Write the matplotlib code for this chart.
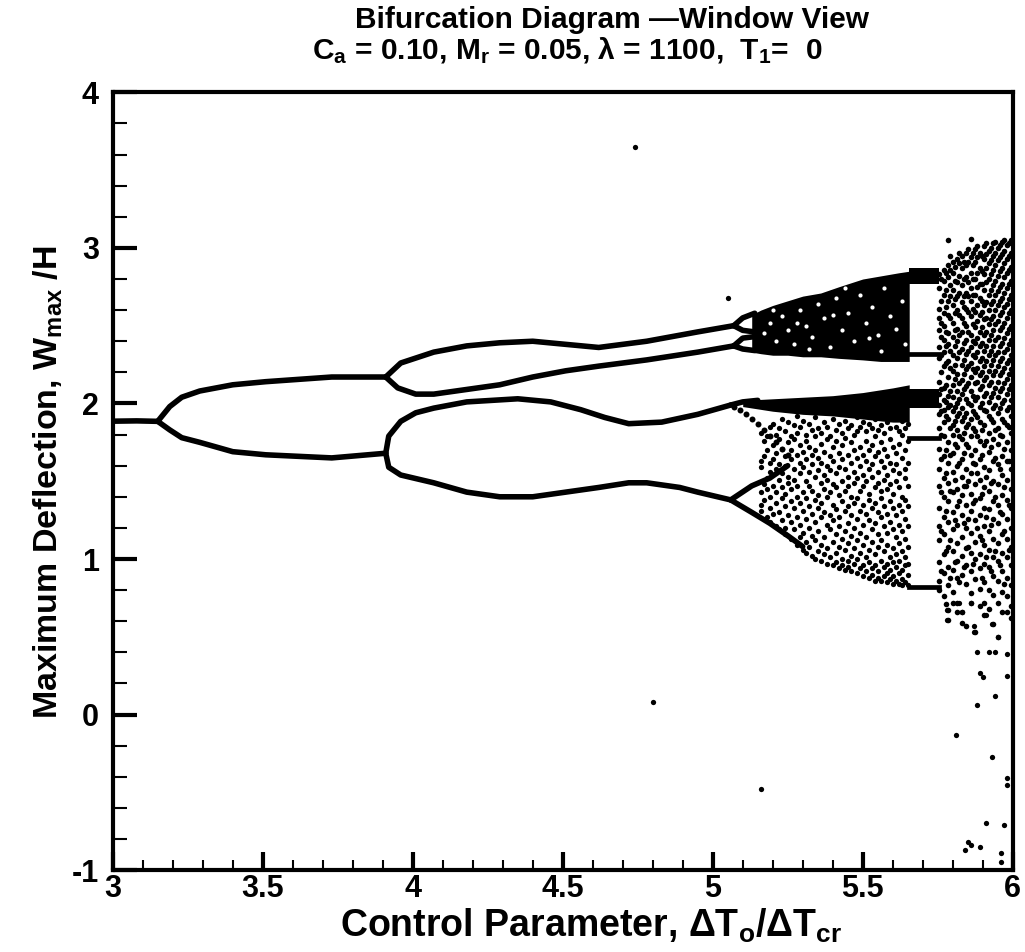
"""Bifurcation diagram (window view) redrawn with matplotlib."""

import matplotlib
matplotlib.use("Agg")
import matplotlib.pyplot as plt
from matplotlib.ticker import MultipleLocator

plt.rcParams["font.family"] = ["Liberation Sans", "DejaVu Sans"]
plt.rcParams["font.weight"] = "bold"
plt.rcParams["mathtext.fontset"] = "custom"
plt.rcParams["mathtext.rm"] = "Liberation Sans:bold"
plt.rcParams["mathtext.bf"] = "Liberation Sans:bold"
plt.rcParams["mathtext.it"] = "Liberation Sans:bold"
plt.rcParams["mathtext.default"] = "bf"
plt.rcParams["axes.unicode_minus"] = False

# --- periodic branches -------------------------------------------------
p1_x = [3.00, 3.08, 3.15]
p1_y = [1.886, 1.888, 1.885]

p2_up_x = [3.15, 3.19, 3.23, 3.29, 3.40, 3.51, 3.73, 3.91]
p2_up_y = [1.885, 1.98, 2.04, 2.08, 2.12, 2.14, 2.17, 2.17]
p2_dn_x = [3.15, 3.19, 3.23, 3.29, 3.40, 3.51, 3.73, 3.91]
p2_dn_y = [1.885, 1.83, 1.78, 1.75, 1.69, 1.67, 1.65, 1.68]

p4_uu_x = [3.91, 3.96, 4.07, 4.18, 4.29, 4.40, 4.51, 4.62, 4.78, 4.95, 5.07]
p4_uu_y = [2.17, 2.26, 2.33, 2.37, 2.39, 2.40, 2.38, 2.36, 2.40, 2.46, 2.50]
p4_ul_x = [3.91, 3.95, 4.01, 4.07, 4.18, 4.29, 4.40, 4.51, 4.62, 4.78, 4.95, 5.07]
p4_ul_y = [2.17, 2.10, 2.06, 2.06, 2.09, 2.12, 2.17, 2.21, 2.24, 2.28, 2.33, 2.37]
p4_lu_x = [3.91, 3.92, 3.96, 4.01, 4.07, 4.18, 4.35, 4.46, 4.56, 4.64, 4.72, 4.83, 4.95, 5.06]
p4_lu_y = [1.68, 1.79, 1.885, 1.94, 1.97, 2.01, 2.03, 2.01, 1.96, 1.91, 1.87, 1.88, 1.93, 1.99]
p4_ll_x = [3.91, 3.92, 3.96, 4.07, 4.18, 4.29, 4.40, 4.51, 4.62, 4.72, 4.78, 4.89, 4.95, 5.06]
p4_ll_y = [1.68, 1.59, 1.54, 1.49, 1.43, 1.40, 1.40, 1.43, 1.46, 1.49, 1.49, 1.46, 1.43, 1.38]

# period-8 pieces before the chaotic band
p8_branches = [
    ([5.07, 5.10, 5.14], [2.50, 2.55, 2.58]),
    ([5.07, 5.10, 5.14], [2.50, 2.47, 2.46]),
    ([5.07, 5.10, 5.14], [2.37, 2.42, 2.43]),
    ([5.07, 5.10, 5.14], [2.37, 2.35, 2.34]),
    ([5.06, 5.10, 5.15], [1.99, 2.01, 2.02]),
    ([5.06, 5.13, 5.19, 5.25], [1.38, 1.47, 1.52, 1.60]),
    ([5.06, 5.13, 5.19, 5.25, 5.30], [1.38, 1.30, 1.23, 1.15, 1.08]),
]
diag_x = [5.07, 5.09, 5.11, 5.13, 5.15, 5.17, 5.19, 5.21, 5.23, 5.25]
diag_y = [1.98, 1.96, 1.93, 1.90, 1.87, 1.83, 1.79, 1.75, 1.71, 1.67]

# --- dense chaotic bands (outline of the solid areas) ------------------
up_band_x = [5.13, 5.16, 5.20, 5.25, 5.30, 5.36, 5.42, 5.50, 5.56, 5.62, 5.655]
up_band_top = [2.57, 2.60, 2.63, 2.66, 2.69, 2.71, 2.75, 2.80, 2.82, 2.84, 2.85]
up_band_bot = [2.33, 2.32, 2.31, 2.31, 2.30, 2.30, 2.29, 2.28, 2.27, 2.27, 2.27]

# white specks inside the upper band
gap_x = [5.17, 5.19, 5.21, 5.23, 5.25, 5.27, 5.29, 5.31, 5.33, 5.35, 5.37, 5.39,
         5.41, 5.43, 5.45, 5.47, 5.49, 5.51, 5.53, 5.55, 5.57, 5.59, 5.61, 5.63,
         5.64, 5.20, 5.32, 5.44, 5.56, 5.28, 5.40, 5.52]
gap_y = [2.45, 2.52, 2.40, 2.56, 2.47, 2.38, 2.60, 2.50, 2.43, 2.64, 2.55, 2.36,
         2.68, 2.47, 2.58, 2.40, 2.70, 2.52, 2.62, 2.44, 2.74, 2.56, 2.48, 2.66,
         2.38, 2.60, 2.35, 2.74, 2.34, 2.52, 2.57, 2.42]

lo_strip_x = [5.10, 5.20, 5.30, 5.40, 5.50, 5.60, 5.655]
lo_strip_top = [2.02, 2.03, 2.04, 2.05, 2.07, 2.10, 2.12]
lo_strip_bot = [1.98, 1.95, 1.93, 1.92, 1.90, 1.88, 1.88]

# periodic window near 5.7
win_x = [5.655, 5.755]
win_top_hi = [2.87, 2.87]
win_top_lo = [2.77, 2.77]
win_mid_hi = [2.09, 2.09]
win_mid_lo = [1.97, 1.97]
win_lines_y = [2.32, 1.78, 0.82]

# --- scattered chaotic points, by parameter column ---------------------
lower_cols = {
    5.16: [1.81, 1.63, 1.59, 1.43, 1.35, 1.31],
    5.17: [1.76, 1.66, 1.48, 1.38],
    5.18: [1.79, 1.70, 1.52, 1.45, 1.27],
    5.19: [1.85, 1.62, 1.56, 1.40, 1.33, 1.24],
    5.20: [1.87, 1.73, 1.64, 1.47, 1.29],
    5.21: [1.80, 1.68, 1.58, 1.43, 1.36, 1.21],
    5.22: [1.84, 1.77, 1.61, 1.51, 1.30, 1.19],
    5.23: [1.90, 1.71, 1.55, 1.46, 1.39, 1.25],
    5.24: [1.82, 1.66, 1.60, 1.42, 1.34, 1.20, 1.16],
    5.25: [1.88, 1.75, 1.53, 1.49, 1.28],
    5.26: [1.79, 1.70, 1.64, 1.45, 1.37, 1.24, 1.13],
    5.27: [1.86, 1.77, 1.58, 1.51, 1.33, 1.19],
    5.28: [1.92, 1.81, 1.67, 1.47, 1.40, 1.27, 1.09],
    5.29: [1.85, 1.73, 1.62, 1.55, 1.36, 1.22, 1.14],
    5.30: [1.89, 1.69, 1.59, 1.43, 1.31, 1.17, 1.06],
    5.31: [1.80, 1.76, 1.64, 1.50, 1.39, 1.26, 1.11, 1.04],
    5.32: [1.87, 1.72, 1.56, 1.47, 1.34, 1.20, 1.08],
    5.33: [1.83, 1.67, 1.61, 1.44, 1.29, 1.15, 1.02],
    5.34: [1.91, 1.79, 1.70, 1.53, 1.38, 1.24, 1.12, 1.00],
    5.35: [1.84, 1.65, 1.57, 1.41, 1.33, 1.18, 1.05],
    5.36: [1.81, 1.74, 1.62, 1.49, 1.36, 1.27, 1.09, 0.99],
    5.37: [1.88, 1.69, 1.54, 1.45, 1.30, 1.14, 1.03],
    5.38: [1.85, 1.77, 1.60, 1.51, 1.40, 1.22, 1.07, 0.97],
    5.39: [1.79, 1.66, 1.57, 1.43, 1.28, 1.19, 1.01],
    5.40: [1.90, 1.72, 1.63, 1.48, 1.35, 1.25, 1.11, 0.96],
    5.41: [1.83, 1.76, 1.55, 1.46, 1.32, 1.16, 1.04, 0.98],
    5.42: [1.87, 1.68, 1.59, 1.41, 1.27, 1.21, 1.08, 0.94],
    5.43: [1.81, 1.73, 1.64, 1.50, 1.37, 1.13, 1.00, 0.96],
    5.44: [1.89, 1.78, 1.58, 1.44, 1.31, 1.18, 1.06, 0.93],
    5.45: [1.84, 1.67, 1.53, 1.47, 1.34, 1.23, 1.10, 0.99, 0.95],
    5.46: [1.86, 1.75, 1.62, 1.40, 1.28, 1.15, 1.02, 0.92],
    5.47: [1.80, 1.70, 1.56, 1.49, 1.36, 1.20, 1.07, 0.97],
    5.48: [1.91, 1.82, 1.65, 1.52, 1.39, 1.26, 1.12, 1.00, 0.91],
    5.49: [1.85, 1.72, 1.60, 1.44, 1.31, 1.17, 1.04, 0.94],
    5.50: [1.88, 1.67, 1.54, 1.47, 1.35, 1.22, 1.09, 0.96, 0.89],
    5.51: [1.82, 1.76, 1.63, 1.50, 1.29, 1.14, 1.01, 0.92],
    5.52: [1.87, 1.70, 1.58, 1.42, 1.38, 1.25, 1.06, 0.98, 0.88],
    5.53: [1.84, 1.73, 1.61, 1.53, 1.33, 1.19, 1.11, 0.94, 0.90],
    5.54: [1.90, 1.79, 1.66, 1.46, 1.36, 1.23, 1.03, 0.96, 0.86],
    5.55: [1.83, 1.69, 1.56, 1.49, 1.30, 1.16, 1.08, 0.92, 0.88],
    5.56: [1.86, 1.75, 1.63, 1.44, 1.39, 1.27, 1.12, 0.99, 0.86],
    5.57: [1.81, 1.71, 1.59, 1.51, 1.34, 1.21, 1.05, 0.95, 0.89],
    5.58: [1.88, 1.66, 1.54, 1.45, 1.29, 1.17, 1.09, 0.97, 0.91, 0.85],
    5.59: [1.84, 1.77, 1.62, 1.48, 1.37, 1.24, 1.01, 0.93, 0.87],
    5.60: [1.91, 1.72, 1.57, 1.42, 1.33, 1.19, 1.07, 0.98, 0.89, 0.84],
    5.61: [1.85, 1.68, 1.61, 1.50, 1.28, 1.14, 1.03, 0.95, 0.86],
    5.62: [1.82, 1.74, 1.55, 1.46, 1.35, 1.22, 1.10, 0.99, 0.91, 0.84],
    5.63: [1.89, 1.80, 1.65, 1.40, 1.31, 1.18, 1.05, 0.93, 0.87, 0.83],
    5.64: [1.84, 1.70, 1.58, 1.52, 1.38, 1.26, 1.13, 1.01, 0.96, 0.85],
    5.65: [1.87, 1.76, 1.62, 1.47, 1.34, 1.21, 1.08, 0.97, 0.90, 0.83],
}

right_cols = {
    5.755: [2.83, 2.74, 2.61, 2.55, 2.47, 2.36, 2.29, 2.14, 2.06, 1.99, 1.93, 1.84,
            1.71, 1.58, 1.47, 1.33, 1.21, 1.12, 0.98, 0.86, 0.80],
    5.7625: [2.80, 2.66, 2.52, 2.43, 2.31, 2.20, 2.09, 1.95, 1.80, 1.64, 1.43, 1.18, 0.92],
    5.77: [2.86, 2.79, 2.70, 2.58, 2.50, 2.41, 2.33, 2.24, 2.10, 2.02, 1.96, 1.88,
           1.79, 1.66, 1.52, 1.40, 1.27, 1.16, 1.03, 0.91, 0.76],
    5.7775: [2.84, 2.73, 2.62, 2.46, 2.37, 2.26, 2.12, 2.01, 1.92, 1.70, 1.55, 1.31, 1.05, 0.71],
    5.785: [3.05, 2.89, 2.81, 2.66, 2.57, 2.45, 2.38, 2.27, 2.17, 2.05, 1.98, 1.90,
            1.75, 1.62, 1.49, 1.37, 1.24, 1.08, 0.95, 0.83, 0.67, 0.61],
    5.7925: [2.95, 2.86, 2.76, 2.69, 2.55, 2.34, 2.23, 2.08, 1.99, 1.84, 1.67, 1.44, 1.12, 0.88],
    5.80: [2.91, 2.84, 2.73, 2.63, 2.52, 2.43, 2.31, 2.21, 2.12, 2.04, 1.95, 1.86,
           1.80, 1.68, 1.56, 1.43, 1.30, 1.19, 1.05, 0.93, 0.79, 0.72],
    5.8075: [2.88, 2.79, 2.67, 2.58, 2.47, 2.37, 2.25, 2.16, 1.98, 1.89, 1.74, 1.51, 1.25, 0.98],
    5.815: [2.93, 2.78, 2.69, 2.60, 2.48, 2.40, 2.29, 2.19, 2.08, 2.00, 1.92, 1.83,
            1.72, 1.60, 1.45, 1.34, 1.22, 1.10, 0.99, 0.88, 0.72, 0.66],
    5.8225: [2.97, 2.90, 2.82, 2.71, 2.57, 2.44, 2.33, 2.13, 2.03, 1.94, 1.79, 1.62, 1.37, 0.85],
    5.83: [2.95, 2.87, 2.76, 2.65, 2.55, 2.46, 2.35, 2.25, 2.15, 2.06, 1.97, 1.89,
           1.77, 1.64, 1.53, 1.41, 1.28, 1.14, 1.02, 0.90, 0.66, 0.59],
    5.8375: [2.91, 2.80, 2.69, 2.62, 2.52, 2.39, 2.28, 2.19, 2.09, 1.91, 1.81, 1.68,
             1.47, 1.23, 0.95],
    5.845: [2.97, 2.89, 2.81, 2.71, 2.61, 2.50, 2.41, 2.32, 2.22, 2.11, 2.03, 1.94,
            1.85, 1.74, 1.58, 1.47, 1.35, 1.20, 1.07, 0.96, 0.84, 0.57],
    5.8525: [2.99, 2.91, 2.78, 2.69, 2.59, 2.46, 2.34, 2.24, 2.13, 2.00, 1.87, 1.72,
             1.50, 1.26, 1.08],
    5.86: [3.06, 2.94, 2.84, 2.74, 2.66, 2.56, 2.44, 2.36, 2.26, 2.17, 2.08, 1.99,
           1.90, 1.79, 1.67, 1.55, 1.42, 1.31, 1.17, 1.04, 0.92, 0.78, 0.72],
    5.8675: [2.97, 2.89, 2.80, 2.70, 2.61, 2.51, 2.40, 2.31, 2.22, 2.05, 1.95, 1.84,
             1.62, 1.36, 0.97],
    5.875: [2.99, 2.91, 2.80, 2.70, 2.59, 2.49, 2.39, 2.30, 2.20, 2.13, 2.02, 1.93,
            1.82, 1.70, 1.61, 1.48, 1.38, 1.25, 1.11, 1.00, 0.87, 0.53],
    5.8825: [3.01, 2.94, 2.84, 2.75, 2.63, 2.53, 2.42, 2.33, 2.23, 2.14, 2.04, 1.91,
             1.79, 1.55, 1.20],
    5.89: [2.97, 2.87, 2.77, 2.68, 2.57, 2.46, 2.37, 2.27, 2.18, 2.09, 1.98, 1.88,
           1.76, 1.64, 1.51, 1.39, 1.28, 1.15, 1.03, 0.94, 0.81, 0.70],
    5.8975: [2.95, 2.85, 2.77, 2.66, 2.59, 2.49, 2.39, 2.29, 2.20, 2.11, 2.00, 1.83,
             1.67, 1.42, 1.12, 0.88],
    5.905: [3.01, 2.93, 2.83, 2.73, 2.63, 2.54, 2.44, 2.34, 2.24, 2.15, 2.05, 1.96,
            1.86, 1.73, 1.59, 1.46, 1.33, 1.21, 1.09, 0.97, 0.85, 0.72, 0.64],
    5.9125: [3.03, 2.96, 2.87, 2.78, 2.65, 2.55, 2.46, 2.37, 2.27, 2.17, 2.07, 1.95,
             1.76, 1.53, 1.27, 1.01],
    5.92: [2.98, 2.90, 2.80, 2.70, 2.60, 2.51, 2.41, 2.31, 2.21, 2.12, 2.01, 1.92,
           1.81, 1.69, 1.57, 1.44, 1.32, 1.18, 1.06, 0.95, 0.80, 0.68],
    5.9275: [3.00, 2.92, 2.83, 2.73, 2.64, 2.54, 2.44, 2.34, 2.25, 2.14, 2.04, 1.90,
             1.72, 1.49, 1.22, 0.92],
    5.935: [3.03, 2.95, 2.86, 2.76, 2.66, 2.56, 2.47, 2.37, 2.28, 2.18, 2.07, 1.97,
            1.88, 1.77, 1.63, 1.50, 1.37, 1.26, 1.13, 1.01, 0.89, 0.77, 0.58],
    5.9425: [3.04, 2.97, 2.89, 2.79, 2.70, 2.60, 2.51, 2.41, 2.31, 2.21, 2.10, 1.99,
             1.83, 1.65, 1.40, 1.05],
    5.95: [3.00, 2.92, 2.82, 2.72, 2.63, 2.53, 2.43, 2.33, 2.24, 2.14, 2.04, 1.94,
           1.84, 1.74, 1.61, 1.48, 1.35, 1.23, 1.10, 0.99, 0.86, 0.72, 0.50],
    5.9575: [3.02, 2.94, 2.85, 2.75, 2.66, 2.57, 2.47, 2.37, 2.27, 2.18, 2.08, 1.97,
             1.80, 1.58, 1.30, 0.96],
    5.965: [3.04, 2.96, 2.87, 2.77, 2.68, 2.59, 2.49, 2.39, 2.29, 2.20, 2.10, 2.00,
            1.90, 1.79, 1.66, 1.54, 1.41, 1.29, 1.16, 1.04, 0.92, 0.79, 0.66],
    5.9725: [3.05, 2.98, 2.90, 2.81, 2.71, 2.62, 2.52, 2.42, 2.33, 2.23, 2.13, 2.02,
             1.88, 1.71, 1.46, 1.18, 0.84],
    5.98: [3.02, 2.93, 2.84, 2.74, 2.64, 2.55, 2.45, 2.35, 2.26, 2.16, 2.06, 1.96,
           1.86, 1.75, 1.63, 1.51, 1.38, 1.26, 1.13, 1.01, 0.88, 0.76, 0.66],
    5.9875: [3.03, 2.95, 2.86, 2.77, 2.67, 2.58, 2.48, 2.38, 2.28, 2.19, 2.09, 1.98,
             1.85, 1.63, 1.35, 1.06],
    5.995: [3.05, 2.97, 2.88, 2.79, 2.70, 2.60, 2.50, 2.41, 2.31, 2.22, 2.12, 2.02,
            1.92, 1.81, 1.70, 1.58, 1.45, 1.33, 1.20, 1.08, 0.96, 0.83, 0.70, 0.62],
}

# isolated points (transients / sparse excursions)
stray_x = [4.80, 4.74, 5.16, 5.05, 5.78, 5.78, 5.82, 5.86, 5.83, 5.87, 5.87, 5.91,
           5.93, 5.95, 5.88, 5.92, 5.94, 5.98, 5.89, 5.90, 5.98, 5.94, 5.88, 5.81,
           5.93, 5.98, 5.98, 5.91, 5.97, 5.85, 5.86, 5.84, 5.89, 5.96, 5.96]
stray_y = [0.08, 3.65, -0.48, 2.68, 0.675, 0.61, 0.72, 0.72, 0.66, 0.57, 0.53, 0.64,
           0.58, 0.50, 0.40, 0.40, 0.40, 0.39, 0.27, 0.24, 0.25, 0.12, 0.06, -0.13,
           -0.27, -0.41, -0.45, -0.70, -0.71, -0.82, -0.84, -0.87, -0.85, -0.89, -0.95]

x_ticks = [3, 3.5, 4, 4.5, 5, 5.5, 6]
x_tick_labels = ["3", "3.5", "4", "4.5", "5", "5.5", "6"]
y_ticks = [-1, 0, 1, 2, 3, 4]
y_tick_labels = ["-1", "0", "1", "2", "3", "4"]


def flatten(cols):
    xs, ys = [], []
    for cx, cys in cols.items():
        xs += [cx] * len(cys)
        ys += cys
    return xs, ys


fig = plt.figure(figsize=(10.25, 9.52), dpi=100)
ax = fig.add_axes([0.110, 0.086, 0.878, 0.817])

lw = 4.0
for bx, by in [(p1_x, p1_y), (p2_up_x, p2_up_y), (p2_dn_x, p2_dn_y),
               (p4_uu_x, p4_uu_y), (p4_ul_x, p4_ul_y),
               (p4_lu_x, p4_lu_y), (p4_ll_x, p4_ll_y)] + p8_branches:
    ax.plot(bx, by, color="black", lw=lw, solid_capstyle="round", solid_joinstyle="round")
ax.plot(diag_x, diag_y, "o", color="black", ms=4.3, mew=0)

ax.fill_between(up_band_x, up_band_bot, up_band_top, color="black", lw=0)
ax.plot(gap_x, gap_y, "o", color="white", ms=3.0, mew=0)
ax.fill_between(lo_strip_x, lo_strip_bot, lo_strip_top, color="black", lw=0)
ax.fill_between(win_x, win_top_lo, win_top_hi, color="black", lw=0)
ax.fill_between(win_x, win_mid_lo, win_mid_hi, color="black", lw=0)
for wy in win_lines_y:
    ax.plot(win_x, [wy, wy], color="black", lw=3.4)

lx, ly = flatten(lower_cols)
ax.plot(lx, ly, "o", color="black", ms=3.8, mew=0)
rx, ry = flatten(right_cols)
ax.plot(rx, ry, "o", color="black", ms=4.0, mew=0)
ax.plot(stray_x, stray_y, "o", color="black", ms=3.8, mew=0)

ax.set_xlim(3, 6)
ax.set_ylim(-1, 4)
ax.set_xticks(x_ticks)
ax.set_xticklabels(x_tick_labels)
ax.set_yticks(y_ticks)
ax.set_yticklabels(y_tick_labels)
ax.xaxis.set_minor_locator(MultipleLocator(0.1))
ax.yaxis.set_minor_locator(MultipleLocator(0.2))
ax.tick_params(axis="both", which="both", direction="in", top=False, right=False,
               labelsize=22)
ax.tick_params(axis="x", which="major", length=13, width=3, pad=3)
ax.tick_params(axis="x", which="minor", length=7, width=1.5)
ax.tick_params(axis="y", which="major", length=17, width=3, pad=10)
ax.tick_params(axis="y", which="minor", length=10, width=1.5)
for lab in ax.get_xticklabels() + ax.get_yticklabels():
    lab.set_fontweight("bold")
for sp in ax.spines.values():
    sp.set_linewidth(3)

fig.text(0.597, 0.979, "Bifurcation Diagram \u2014Window View", ha="center", va="center",
         fontsize=21.5, fontweight="bold")
fig.text(0.553, 0.947, r"C$_a$ = 0.10, M$_r$ = 0.05, λ = 1100,  T$_1$=  0",
         ha="center", va="center", fontsize=21.5, fontweight="bold")
fig.text(0.577, 0.027, r"Control Parameter, ΔT$_o$/ΔT$_{cr}$", ha="center", va="center",
         fontsize=27, fontweight="bold")
fig.text(0.047, 0.494, r"Maximum Deflection, W$_{max}$ /H", ha="center", va="center",
         rotation=90, fontsize=24.5, fontweight="bold")

fig.savefig("out.png", dpi=100)
